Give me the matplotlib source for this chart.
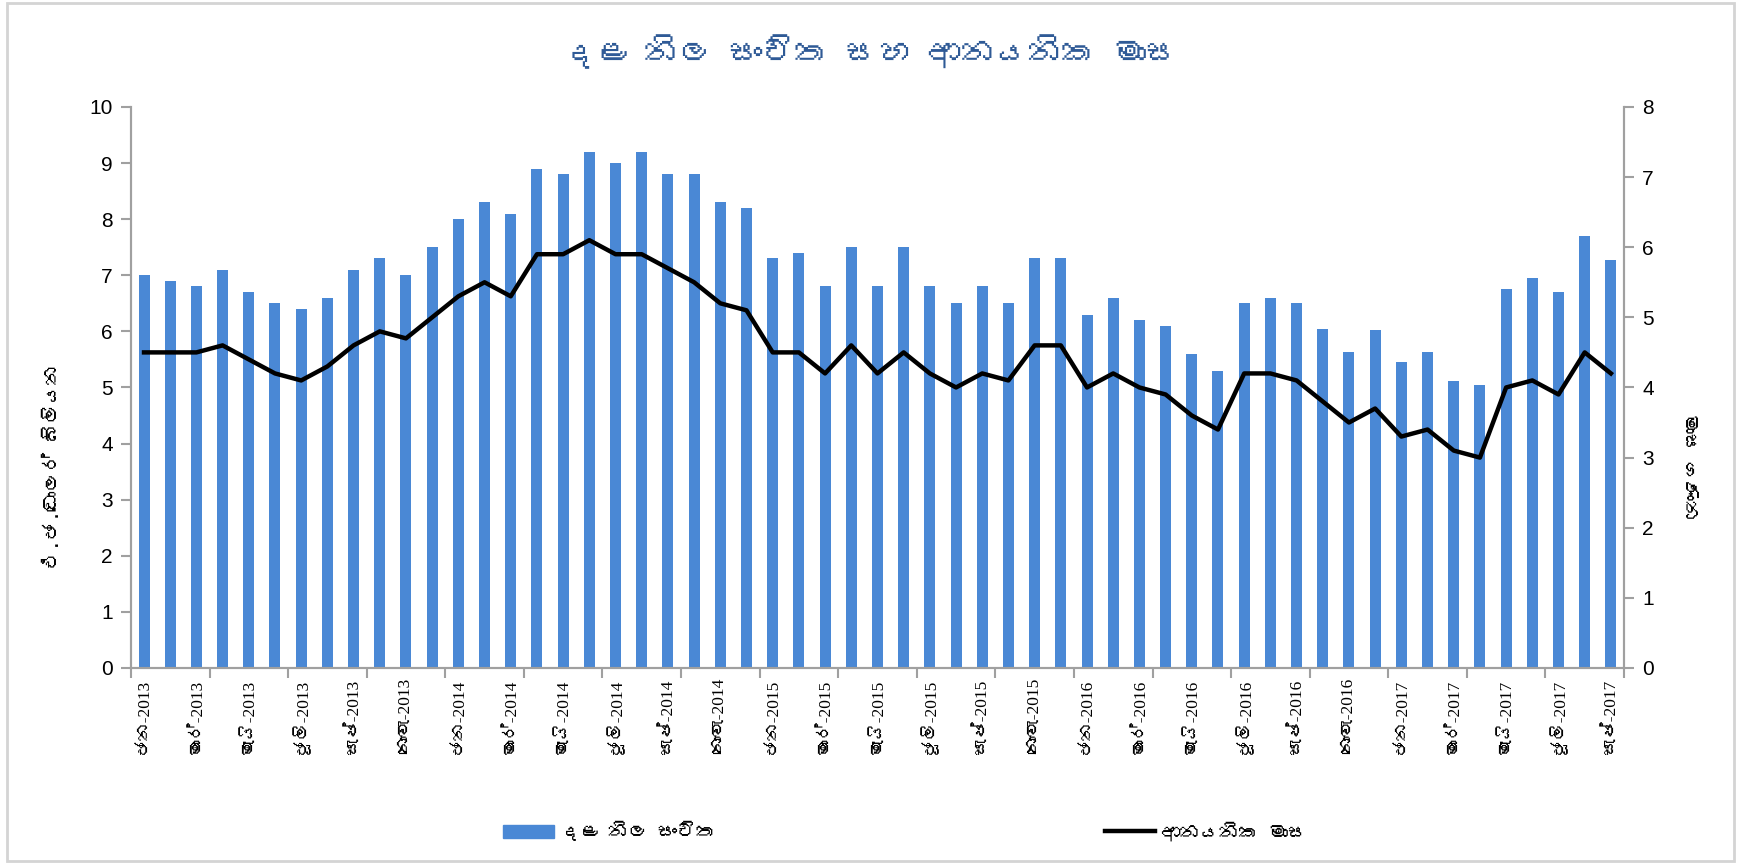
import numpy as np
import matplotlib
matplotlib.use('Agg')
import matplotlib.pyplot as plt
import matplotlib.font_manager as fm
from matplotlib.ft2font import FT2Font
from matplotlib.patches import Rectangle
from matplotlib.lines import Line2D


def find_sinhala_font():
    # look for any installed font that has Sinhala glyphs
    for f in fm.fontManager.ttflist:
        try:
            if 0x0DC3 in FT2Font(f.fname).get_charmap():
                return f.name
        except Exception:
            pass
    return None


sin_font = find_sinhala_font()
fam = [sin_font, 'DejaVu Sans'] if sin_font else ['DejaVu Sans']
serif_fam = ['Liberation Serif', sin_font] if sin_font else ['Liberation Serif', 'DejaVu Sans']

month_names = ['ජන', 'පෙබ', 'මාර්', 'අප්‍රේල්', 'මැයි', 'ජූනි',
               'ජූලි', 'අගෝ', 'සැප්', 'ඔක්', 'නොවැ', 'දෙසැ']
years = [2013, 2014, 2015, 2016, 2017]
months = [f'{m}-{y}' for y in years for m in month_names][:57]

reserves = [7.0, 6.9, 6.8, 7.1, 6.7, 6.5, 6.4, 6.6, 7.1, 7.3, 7.0, 7.5,
            8.0, 8.3, 8.1, 8.9, 8.8, 9.2, 9.0, 9.2, 8.8, 8.8, 8.3, 8.2,
            7.3, 7.4, 6.8, 7.5, 6.8, 7.5, 6.8, 6.5, 6.8, 6.5, 7.3, 7.3,
            6.3, 6.6, 6.2, 6.1, 5.6, 5.3, 6.5, 6.6, 6.5, 6.05, 5.64, 6.02,
            5.45, 5.63, 5.12, 5.05, 6.76, 6.96, 6.71, 7.7, 7.28]
import_months = [4.5, 4.5, 4.5, 4.6, 4.4, 4.2, 4.1, 4.3, 4.6, 4.8, 4.7, 5.0,
                 5.3, 5.5, 5.3, 5.9, 5.9, 6.1, 5.9, 5.9, 5.7, 5.5, 5.2, 5.1,
                 4.5, 4.5, 4.2, 4.6, 4.2, 4.5, 4.2, 4.0, 4.2, 4.1, 4.6, 4.6,
                 4.0, 4.2, 4.0, 3.9, 3.6, 3.4, 4.2, 4.2, 4.1, 3.8, 3.5, 3.7,
                 3.3, 3.4, 3.1, 3.0, 4.0, 4.1, 3.9, 4.5, 4.2]

title = 'දළ නිල සංචිත සහ ආනයනික මාස'
left_label = 'එ.ජ.ඩොලර් බිලියන'
right_label = 'මාස ගණන'
bar_label = 'දළ නිල සංචිත'
line_label = 'ආනයනික මාස'

bar_color = '#4A88D5'
spine_color = '#A0A0A0'

fig = plt.figure(figsize=(17.41, 8.64), dpi=100)
ax = fig.add_axes([0.0752, 0.2269, 0.8576, 0.6493])
ax2 = ax.twinx()

x = np.arange(len(months))
ax.bar(x, reserves, width=0.42, color=bar_color, zorder=2)
ax2.plot(x, import_months, color='black', lw=3.2, zorder=3)

ax.set_xlim(-0.5, len(months) - 0.5)
ax.set_ylim(0, 10)
ax2.set_ylim(0, 8)
ax.set_yticks(range(0, 11))
ax2.set_yticks(range(0, 9))

ax.set_xticks(x[::2])
ax.set_xticklabels(months[::2], rotation=90, fontsize=12.5, family=serif_fam)
ax.set_xticks(np.arange(-0.5, len(months), 3), minor=True)
ax.tick_params(axis='x', which='major', length=0, pad=8)
ax.tick_params(axis='x', which='minor', length=7, color=spine_color, width=1.5)

for a in (ax, ax2):
    for s in a.spines.values():
        s.set_color(spine_color)
        s.set_linewidth(1.5)
    a.spines['top'].set_visible(False)
ax.tick_params(axis='y', length=7, color=spine_color, width=1.5, labelsize=15, pad=6)
ax2.tick_params(axis='y', length=7, color=spine_color, width=1.5, labelsize=15, pad=6)
for lab in ax.get_yticklabels() + ax2.get_yticklabels():
    lab.set_family(['Liberation Sans', 'DejaVu Sans'])

fig.text(0.030, 0.46, left_label, rotation=90, ha='center', va='center',
         fontsize=14, family=fam)
fig.text(0.970, 0.46, right_label, rotation=270, ha='center', va='center',
         fontsize=14, family=fam)
fig.text(0.50, 0.94, title, ha='center', va='center', fontsize=24,
         fontweight='bold', color='#2F5A96', family=fam)

handles = [Rectangle((0, 0), 1, 1, color=bar_color),
           Line2D([0], [0], color='black', lw=3.2)]
fig.legend(handles, [bar_label, line_label], loc='center',
           bbox_to_anchor=(0.52, 0.038), ncol=2, frameon=False,
           columnspacing=20, handlelength=2.6, handletextpad=0.3,
           prop={'family': fam, 'size': 14})

fig.patches.append(Rectangle((0.004, 0.004), 0.992, 0.992, transform=fig.transFigure,
                             fill=False, edgecolor='#D4D4D4', lw=2))

fig.savefig('out.png', dpi=100)
